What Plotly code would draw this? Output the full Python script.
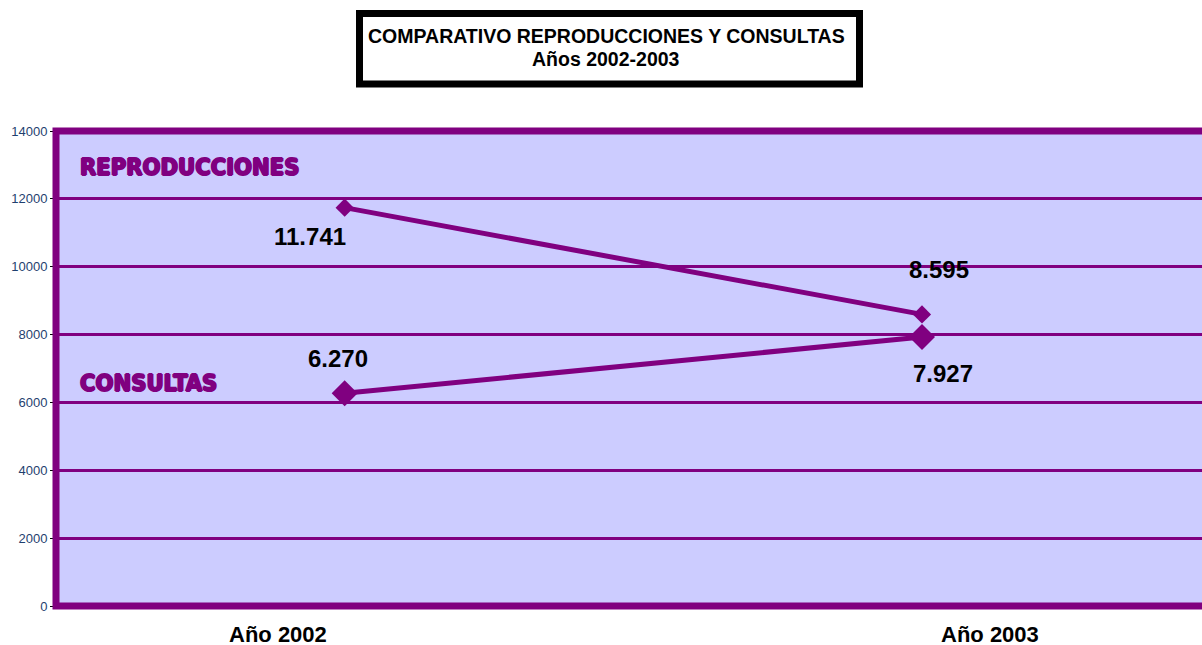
import plotly.graph_objects as go

# ---- data ----
years = ["Año 2002", "Año 2003"]
reproducciones = [11741, 8595]
consultas = [6270, 7927]
series_names = ["REPRODUCCIONES", "CONSULTAS"]
y_ticks = [0, 2000, 4000, 6000, 8000, 10000, 12000, 14000]
title_lines = ["COMPARATIVO REPRODUCCIONES Y CONSULTAS", "Años 2002-2003"]

PURPLE = "#800080"
W, H = 1202, 645
L, R, T, B = 56, 0, 131, 39
PW, PH = W - L - R, H - T - B


def px(x):
    return (x - L) / PW


def py(y):
    return (H - B - y) / PH


def fmt(v):
    return f"{v:,}".replace(",", ".")


fig = go.Figure()
fig.add_trace(go.Scatter(
    x=years, y=reproducciones, mode="lines+markers", name=series_names[0],
    line=dict(color=PURPLE, width=5),
    marker=dict(symbol="diamond", size=14, color=PURPLE),
    cliponaxis=False,
))
fig.add_trace(go.Scatter(
    x=years, y=consultas, mode="lines+markers", name=series_names[1],
    line=dict(color=PURPLE, width=5),
    marker=dict(symbol="diamond", size=20, color=PURPLE),
    cliponaxis=False,
))

SANS = "Liberation Sans, Arial, sans-serif"
LABEL_FONT = dict(family=SANS, size=24, color="black", weight="bold")
ann = []
repro_shift = [(-35, -29), (17, 45)]
cons_shift = [(-7, 35), (21, -36)]
for i, yr in enumerate(years):
    ann.append(dict(x=yr, y=reproducciones[i], xref="x", yref="y", text=fmt(reproducciones[i]),
                    showarrow=False, xshift=repro_shift[i][0], yshift=repro_shift[i][1],
                    font=LABEL_FONT, xanchor="center", yanchor="middle"))
    ann.append(dict(x=yr, y=consultas[i], xref="x", yref="y", text=fmt(consultas[i]),
                    showarrow=False, xshift=cons_shift[i][0], yshift=cons_shift[i][1],
                    font=LABEL_FONT, xanchor="center", yanchor="middle"))

# category labels (offset as in the original)
cat_shift = [-67, 68]
for i, yr in enumerate(years):
    ann.append(dict(x=yr, y=py(634), xref="x", yref="paper", text=yr, showarrow=False,
                    xshift=cat_shift[i], xanchor="center", yanchor="middle",
                    height=22, borderpad=0, valign="middle",
                    font=dict(family=SANS, size=22, color="black", weight="bold")))

# series name labels
SERIES_FONT = dict(family="Liberation Sans Narrow, DejaVu Sans Condensed, Arial Narrow, sans-serif",
                   size=23.5, color=PURPLE, weight="bold",
                   shadow="1px 0px 0px #800080, -1px 0px 0px #800080, 0px 1px 0px #800080, 0px -1px 0px #800080")
ann.append(dict(x=px(78), y=py(167), xref="paper", yref="paper", text=series_names[0], showarrow=False,
                xanchor="left", yanchor="middle", font=SERIES_FONT))
ann.append(dict(x=px(78), y=py(383), xref="paper", yref="paper", text=series_names[1], showarrow=False,
                xanchor="left", yanchor="middle", font=SERIES_FONT))

# title
title_y = [36, 59]
for line, ty in zip(title_lines, title_y):
    ann.append(dict(x=px(606), y=py(ty), xref="paper", yref="paper",
                    text=line, showarrow=False, xanchor="center", yanchor="middle",
                    font=dict(family=SANS, size=19.5, color="black", weight="bold")))

shapes = [
    # plot frame
    dict(type="rect", xref="paper", yref="paper", x0=0, x1=1.02, y0=0, y1=1,
         line=dict(color=PURPLE, width=7), layer="above"),
    # title box
    dict(type="rect", xref="paper", yref="paper", x0=px(359.5), x1=px(859.5), y0=py(84), y1=py(13.5),
         line=dict(color="black", width=7), fillcolor="white", layer="below"),
]

fig.update_layout(
    width=W, height=H,
    margin=dict(l=L, r=R, t=T, b=B),
    paper_bgcolor="white", plot_bgcolor="#CCCCFF",
    showlegend=False,
    annotations=ann, shapes=shapes,
    xaxis=dict(type="category", range=[-0.5, 1.485], showticklabels=False, showgrid=False,
               zeroline=False, showline=False, ticks=""),
    yaxis=dict(range=[0, 14000], tickvals=y_ticks, ticktext=[str(v) for v in y_ticks],
               showgrid=True, gridcolor=PURPLE, gridwidth=3, zeroline=False,
               ticks="outside", ticklen=5, tickcolor="black",
               tickfont=dict(family=SANS, size=13, color="#1F3F6F")),
)

fig.write_html("out.html", config={"displayModeBar": False},
               post_script="document.body.style.margin='0';document.body.style.overflow='hidden';")
